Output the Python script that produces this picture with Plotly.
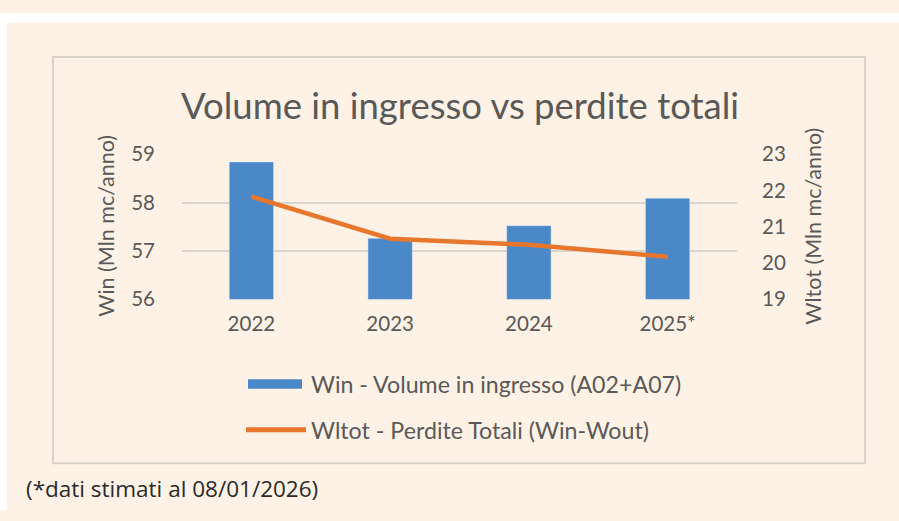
import plotly.graph_objects as go

categories = ["2022", "2023", "2024", "2025*"]
win_values = [58.84, 57.26, 57.52, 58.09]
wltot_values = [21.83, 20.67, 20.50, 20.17]
left_ticks = [56, 57, 58, 59]
right_ticks = [19, 20, 21, 22, 23]

title_text = "Volume in ingresso vs perdite totali"
left_title = "Win (Mln mc/anno)"
right_title = "Wltot (Mln mc/anno)"
legend_bar = "Win - Volume in ingresso (A02+A07)"
legend_line = "Wltot - Perdite Totali (Win-Wout)"
footnote = "(*dati stimati al 08/01/2026)"

W, H = 899, 521
BLUE = "#4a88c7"
ORANGE = "#e8772e"
TXT = "#595959"
CREAM = "#fdf2e5"
FONT = "Lato"

def px(x):
    return x / W

def py(y):
    return 1 - y / H

fig = go.Figure()
fig.add_trace(go.Bar(x=categories, y=win_values, marker_color=BLUE, width=0.32,
                     name=legend_bar, yaxis="y", showlegend=False))
fig.add_trace(go.Scatter(x=categories, y=wltot_values, mode="lines",
                         line=dict(color=ORANGE, width=4.5), name=legend_line,
                         yaxis="y2", showlegend=False))

shapes = [
    dict(type="rect", xref="paper", yref="paper", x0=0, x1=1, y0=py(10), y1=1,
         fillcolor="white", line=dict(width=0), layer="below"),
    dict(type="rect", xref="paper", yref="paper", x0=0, x1=px(7), y0=0, y1=1,
         fillcolor="white", line=dict(width=0), layer="below"),
    dict(type="rect", xref="paper", yref="paper", x0=px(53), x1=px(865), y0=py(472), y1=py(46),
         fillcolor=CREAM, line=dict(color="#d9d3ca", width=2), layer="below"),
    dict(type="rect", xref="paper", yref="paper", x0=px(248), x1=px(302), y0=py(394), y1=py(384),
         fillcolor=BLUE, line=dict(width=0)),
    dict(type="line", xref="paper", yref="paper", x0=px(246), x1=px(306), y0=py(437), y1=py(437),
         line=dict(color=ORANGE, width=5)),
]

annotations = [
    dict(text=title_text, xref="paper", yref="paper", x=px(460), y=py(96), showarrow=False,
         font=dict(family=FONT, size=36.5, color=TXT), xanchor="center", yanchor="middle"),
    dict(text=left_title, xref="paper", yref="paper", x=px(106), y=py(223), showarrow=False,
         textangle=-90, font=dict(family=FONT, size=21.5, color=TXT), xanchor="center", yanchor="middle"),
    dict(text=right_title, xref="paper", yref="paper", x=px(813), y=py(224), showarrow=False,
         textangle=-90, font=dict(family=FONT, size=21.5, color=TXT), xanchor="center", yanchor="middle"),
    dict(text=legend_bar, xref="paper", yref="paper", x=px(309), y=py(389), showarrow=False,
         font=dict(family=FONT, size=23.2, color=TXT), xanchor="left", yanchor="middle"),
    dict(text=legend_line, xref="paper", yref="paper", x=px(309), y=py(437), showarrow=False,
         font=dict(family=FONT, size=23.2, color=TXT), xanchor="left", yanchor="middle"),
    dict(text=footnote, xref="paper", yref="paper", x=px(24), y=py(498), showarrow=False,
         font=dict(family="Open Sans", size=22.5, color="#2a2a2a"), xanchor="left", yanchor="middle"),
]

fig.update_layout(
    width=W, height=H,
    margin=dict(l=0, r=0, t=0, b=0),
    paper_bgcolor=CREAM,
    plot_bgcolor="rgba(0,0,0,0)",
    font=dict(family=FONT, color=TXT, size=20),
    xaxis=dict(domain=[px(182), px(737)], showgrid=False, showline=False, ticks="",
               tickfont=dict(size=20.5, color=TXT), ticklabelstandoff=10),
    yaxis=dict(domain=[py(300), py(148)], range=[56, 59], tickvals=left_ticks,
               showgrid=True, gridcolor="#d9d6d0", gridwidth=1.5, zeroline=False,
               showline=False, tickfont=dict(size=20.5, color=TXT), ticklabelstandoff=26),
    yaxis2=dict(domain=[py(300), py(148)], range=[19, 23], tickvals=right_ticks,
                overlaying="y", side="right", anchor="x", showgrid=False, zeroline=False,
                showline=False, tickfont=dict(size=20.5, color=TXT), ticklabelstandoff=24),
    shapes=shapes,
    annotations=annotations,
    showlegend=False,
    bargap=0.68,
)

fig.write_html(
    "out.html",
    config={"displayModeBar": False},
    post_script=("document.body.style.margin='0';document.body.style.padding='0';"
                 "document.body.style.overflow='hidden';"
                 "var d=document.getElementById('{plot_id}');"
                 "d.style.position='absolute';d.style.left='0px';d.style.top='0px';"),
)
